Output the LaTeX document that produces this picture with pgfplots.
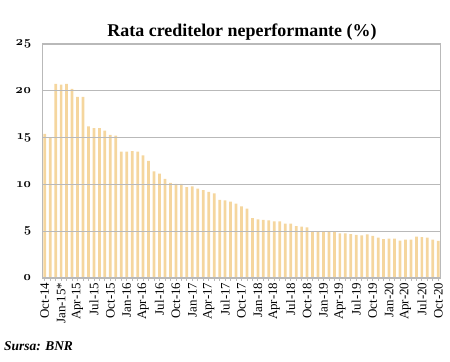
\documentclass[border=0pt]{standalone}
\usepackage{pgfplots}
\pgfplotsset{compat=1.18}
\usepackage{pgfplotstable}
\usepackage{fontspec}
\setmainfont{Liberation Serif}
\newfontfamily\osf{Latin Modern Roman}[Numbers=OldStyle]
\definecolor{barc}{RGB}{245,214,158}
\definecolor{gridc}{RGB}{185,185,185}
\pgfplotstableread{
i v
0 15.4
1 15.0
2 20.75
3 20.65
4 20.75
5 20.2
6 19.35
7 19.35
8 16.2
9 16.0
10 16.0
11 15.75
12 15.3
13 15.2
14 13.5
15 13.5
16 13.55
17 13.5
18 13.1
19 12.5
20 11.4
21 11.15
22 10.6
23 10.15
24 10.05
25 10.05
26 9.7
27 9.8
28 9.55
29 9.4
30 9.2
31 9.05
32 8.35
33 8.3
34 8.15
35 7.95
36 7.65
37 7.4
38 6.4
39 6.25
40 6.2
41 6.15
42 6.05
43 6.05
44 5.8
45 5.8
46 5.55
47 5.5
48 5.4
49 4.97
50 5.0
51 4.93
52 4.93
53 4.9
54 4.78
55 4.78
56 4.7
57 4.6
58 4.55
59 4.65
60 4.5
61 4.32
62 4.15
63 4.2
64 4.2
65 4.0
66 4.1
67 4.1
68 4.43
69 4.37
70 4.32
71 4.1
72 3.96
}\npl
\begin{document}
\begin{tikzpicture}
\path[use as bounding box] (0,0) rectangle (450bp,362bp);
\begin{axis}[
  at={(42bp,84bp)}, anchor=south west,
  scale only axis, width=399bp, height=234bp,
  xmin=-0.5, xmax=72.5, ymin=0, ymax=25,
  ytick={0,5,...,25},
  xtick={0,3,...,72},
  minor xtick={0,...,72},
  xticklabels={Oct-14,Jan-15*,Apr-15,Jul-15,Oct-15,Jan-16,Apr-16,Jul-16,Oct-16,Jan-17,Apr-17,Jul-17,Oct-17,Jan-18,Apr-18,Jul-18,Oct-18,Jan-19,Apr-19,Jul-19,Oct-19,Jan-20,Apr-20,Jul-20,Oct-20},
  xticklabel style={rotate=90, anchor=east, font=\fontsize{13}{14}\selectfont, inner sep=1.5bp},
  /pgf/number format/assume math mode=true,
  yticklabel style={font=\osf\bfseries\fontsize{13}{14}\selectfont, xshift=-4bp},
  ymajorgrids, major grid style={gridc, line width=1.1bp},
  axis line style={gridc, line width=1bp},
  xtick pos=bottom, ytick pos=left, tick align=outside,
  x tick style={gridc, line width=0.8bp},
  major x tick style={gridc}, 
  major tick length=3bp, minor tick length=3bp,
  y tick style={draw=none},
  axis on top,
]
\addplot[ybar, bar width=0.5, fill=barc, draw=none] table[x=i, y=v] {\npl};
\end{axis}
\node[font=\bfseries\fontsize{18}{20}\selectfont] at (242bp,330bp) {Rata creditelor neperformante (\%)};
\node[font=\bfseries\itshape\fontsize{13.5}{15}\selectfont, anchor=west, inner sep=0] at (4bp,16bp) {Sursa: BNR};
\end{tikzpicture}
\end{document}
